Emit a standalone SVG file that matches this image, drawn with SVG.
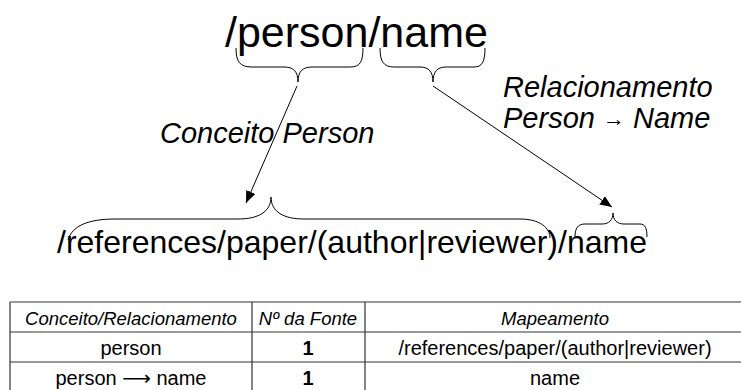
<svg xmlns="http://www.w3.org/2000/svg" width="741" height="390" viewBox="0 0 741 390">
<style>
.t{font-family:"Liberation Sans",Arial,sans-serif;fill:#000}
.i{font-style:italic}
.br{fill:none;stroke:#000;stroke-width:1}
.ln{fill:none;stroke:#000;stroke-width:1}
.tb{fill:none;stroke:#333;stroke-width:1.2}
</style>
<defs>
<marker id="ah" markerUnits="userSpaceOnUse" markerWidth="14" markerHeight="12" refX="12" refY="5" orient="auto">
<path d="M0,0 L12,5 L0,10 Z" fill="#000"/>
</marker>
</defs>
<rect width="741" height="390" fill="#fff"/>
<g id="top-path">
<text class="t" x="225" y="47" font-size="43">/person/name</text>
<path class="br" d="M236,48 C236,62 240,67 252,67 L284,67 C294,67 298,72 298,82 C298,72 302,67 312,67 L350,67 C360,67 363,62 363,48"/>
<path class="br" d="M380,48 C380,62 384,67 394,67 L420,67 C429,67 433,72 433,82 C433,72 437,67 446,67 L474,67 C482,67 485,62 485,48"/>
</g>
<g id="label-conceito">
<text class="t i" x="160" y="143" font-size="29">Conceito Person</text>
</g>
<g id="label-relacionamento">
<text class="t i" x="503" y="97" font-size="29">Relacionamento</text>
<text class="t i" x="503" y="128" font-size="29">Person <tspan font-size="22" dy="-2">→</tspan><tspan dy="2"> Name</tspan></text>
</g>
<g id="bottom-path">
<text class="t" x="57" y="253" font-size="32">/references/paper/(author|reviewer)/name</text>
<path class="br" d="M68,240 C72,226 88,219 115,219 L238,219 C258,219 271,212 271,197 C271,212 284,219 304,219 L520,219 C540,219 550,228 550,238"/>
<path class="br" d="M575,237 C575,228 578,224 585,224 L602,224 C609,224 613,220 613,213 C613,220 617,224 624,224 L640,224 C645,224 647,228 647,237"/>
</g>
<g id="connectors">
<line class="ln" x1="297" y1="86" x2="246" y2="203" marker-end="url(#ah)"/>
<line class="ln" x1="433" y1="86" x2="612" y2="207" marker-end="url(#ah)"/>
</g>
<g id="table">
<path class="tb" d="M10,302 H745 M10,332 H745 M10,362 H745 M10,302 V392 M252,302 V392 M365,302 V392"/>
<text class="t i" x="131" y="325" font-size="18.5" text-anchor="middle">Conceito/Relacionamento</text>
<text class="t i" x="308" y="325" font-size="18.5" text-anchor="middle">Nº da Fonte</text>
<text class="t i" x="555" y="325" font-size="18.5" text-anchor="middle">Mapeamento</text>
<text class="t" x="131" y="355" font-size="20" text-anchor="middle">person</text>
<text class="t" x="308" y="355" font-size="20" font-weight="bold" text-anchor="middle">1</text>
<text class="t" x="555" y="355" font-size="20" text-anchor="middle">/references/paper/(author|reviewer)</text>
<text class="t" x="131" y="385" font-size="20" text-anchor="middle">person <tspan font-family="DejaVu Sans">⟶</tspan> name</text>
<text class="t" x="308" y="385" font-size="20" font-weight="bold" text-anchor="middle">1</text>
<text class="t" x="555" y="385" font-size="20" text-anchor="middle">name</text>
</g>
</svg>
